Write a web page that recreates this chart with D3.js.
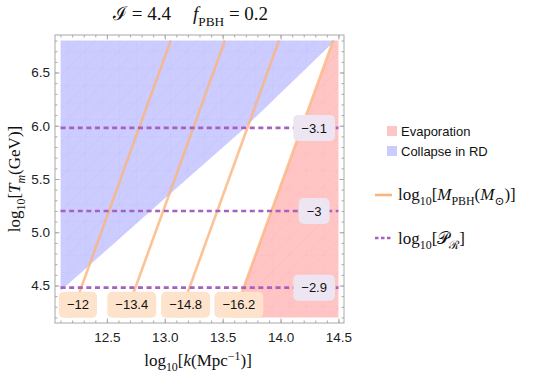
<!DOCTYPE html>
<html>
<head>
<meta charset="utf-8">
<script src="https://cdn.jsdelivr.net/npm/d3@7"></script>
<style>
  body { margin: 0; background: #fff; }
  svg { display: block; }
  .tick text { font-family: "Liberation Sans", Arial, sans-serif; font-size: 13.5px; fill: #222; }
  .serif { font-family: "Liberation Serif", "DejaVu Serif", serif; fill: #111; }
  .lbl { font-family: "Liberation Sans", Arial, sans-serif; font-size: 13px; fill: #111; }
</style>
</head>
<body>
<svg id="chart" width="542" height="379"></svg>
<script>
// ---- data ----
const kExtent = [12.1, 14.5];          // log10 k
const tExtent = [4.2, 6.8];            // log10 Tm
const xMajorTicks = [12.5, 13.0, 13.5, 14.0, 14.5];
const yMajorTicks = [4.5, 5.0, 5.5, 6.0, 6.5];

// log10 M_PBH contours: k at top (T=6.8) and bottom (T=4.2)
const massLevels = [-12, -13.4, -14.8, -16.2];
const massKTop = [13.052, 13.52, 13.987, 14.455];
const massKBottom = [12.185, 12.653, 13.12, 13.588];
const massLabelK = [12.25, 12.715, 13.18, 13.64];
const massLabelT = 4.32;

// log10 P_R contours (horizontal)
const pLevels = [-3.1, -3, -2.9];
const pLevelT = [5.98, 5.2, 4.48];
const pLabelK = 14.29;

// regions
const evapK = [13.588, 14.46, 14.5, 14.5];
const evapT = [4.2, 6.8, 6.8, 4.2];
const collapseK = [12.1, 12.1, 14.47, 13.65, 12.985, 12.1];
const collapseT = [4.45, 6.8, 6.8, 5.94, 5.303, 4.45];

// ---- drawing ----
const svg = d3.select("#chart");
const frame = { left: 55, right: 344, top: 35, bottom: 323 };
const padX = (kExtent[1] - kExtent[0]) * 0.02;
const padY = (tExtent[1] - tExtent[0]) * 0.02;
const x = d3.scaleLinear().domain([kExtent[0] - padX, kExtent[1] + padX]).range([frame.left, frame.right]);
const y = d3.scaleLinear().domain([tExtent[0] - padY, tExtent[1] + padY]).range([frame.bottom, frame.top]);

const orange = "#fbb47c";
const purple = "#a660c0";
const blueFill = "rgba(0,0,255,0.2)";
const pinkFill = "rgba(255,0,0,0.23)";

const defs = svg.append("defs");
function meshPattern(id, color) {
  const p = defs.append("pattern").attr("id", id).attr("patternUnits", "userSpaceOnUse")
    .attr("width", 17).attr("height", 17);
  p.append("path").attr("d", "M0,17 L17,0 M0,0 L0,17 M0,0 L17,0")
    .attr("stroke", color).attr("stroke-width", 0.5).attr("fill", "none");
}
meshPattern("meshBlue", "rgba(60,60,230,0.08)");
meshPattern("meshPink", "rgba(220,60,60,0.08)");

const plot = svg.append("g");
const line = d3.line().x(d => x(d[0])).y(d => y(d[1]));

// regions
const poly = (ks, ts) => line(ks.map((k, i) => [k, ts[i]])) + "Z";
plot.append("path").attr("d", poly(evapK, evapT)).attr("fill", pinkFill);
plot.append("path").attr("d", poly(evapK, evapT)).attr("fill", "url(#meshPink)");
plot.append("path").attr("d", poly(collapseK, collapseT)).attr("fill", blueFill);
plot.append("path").attr("d", poly(collapseK, collapseT)).attr("fill", "url(#meshBlue)");

// orange mass contours
plot.selectAll("path.mass")
  .data(massLevels.map((m, i) => [[massKBottom[i], tExtent[0]], [massKTop[i], tExtent[1]]]))
  .join("path")
  .attr("class", "mass")
  .attr("d", line)
  .attr("fill", "none")
  .attr("stroke", orange)
  .attr("stroke-opacity", 0.8)
  .attr("stroke-width", 2.6);

// P_R dashed lines
plot.selectAll("path.pr")
  .data(pLevelT.map(t => [[kExtent[0], t], [kExtent[1], t]]))
  .join("path")
  .attr("class", "pr")
  .attr("d", line)
  .attr("stroke", purple)
  .attr("stroke-width", 2.6)
  .attr("stroke-dasharray", "5,3.6");

// label boxes
function boxLabel(cx, cy, txt, fill) {
  const g = plot.append("g").attr("transform", `translate(${cx},${cy})`);
  const t = g.append("text").attr("class", "lbl").attr("text-anchor", "middle")
    .attr("dy", "0.36em").text(txt);
  const w = t.node().getComputedTextLength() + 16;
  g.insert("rect", "text").attr("x", -w / 2).attr("y", -13).attr("width", w).attr("height", 26)
    .attr("rx", 5).attr("fill", fill);
}
const minus = v => String(v).replace("-", "\u2212");
massLevels.forEach((m, i) => boxLabel(x(massLabelK[i]), y(massLabelT), minus(m), "#fde3cb"));
pLevels.forEach((p, i) => boxLabel(x(pLabelK), y(pLevelT[i]), minus(p), "#ede5f1"));

// frame and ticks
const frameColor = "#a8a8a8";
const minorX = d3.range(121, 146).map(v => v / 10);
const minorY = d3.range(42, 69).map(v => v / 10);
function ticks(axisFn, scale, vals, size, pos, labels) {
  const a = axisFn(scale).tickValues(vals).tickSizeOuter(0).tickSizeInner(size);
  if (labels) a.tickFormat(d3.format(".1f")).tickPadding(labels);
  else a.tickFormat("");
  const g = svg.append("g").attr("transform", pos).call(a);
  g.select(".domain").remove();
  g.selectAll("line").attr("stroke", frameColor);
  return g;
}
ticks(d3.axisBottom, x, minorX, -2.5, `translate(0,${frame.bottom})`);
ticks(d3.axisBottom, x, xMajorTicks, -4.5, `translate(0,${frame.bottom})`);
ticks(d3.axisTop, x, minorX, -2.5, `translate(0,${frame.top})`);
ticks(d3.axisTop, x, xMajorTicks, -4.5, `translate(0,${frame.top})`);
ticks(d3.axisLeft, y, minorY, -2.5, `translate(${frame.left},0)`);
ticks(d3.axisLeft, y, yMajorTicks, -4.5, `translate(${frame.left},0)`);
ticks(d3.axisRight, y, minorY, -2.5, `translate(${frame.right},0)`);
ticks(d3.axisRight, y, yMajorTicks, -4.5, `translate(${frame.right},0)`);
// labelled ticks
ticks(d3.axisBottom, x, xMajorTicks, 0, `translate(0,${frame.bottom})`, 9);
ticks(d3.axisLeft, y, yMajorTicks, 0, `translate(${frame.left},0)`, 5);
svg.append("rect")
  .attr("x", frame.left).attr("y", frame.top)
  .attr("width", frame.right - frame.left).attr("height", frame.bottom - frame.top)
  .attr("fill", "none").attr("stroke", frameColor).attr("stroke-width", 1);

// math-ish text helper: parts = [text, style] where style in {"", "i", "sub", "sup"}
function mathText(sel, parts, size) {
  let shift = 0;
  parts.forEach(([s, st]) => {
    const ts = sel.append("tspan").text(s);
    let target = 0;
    if (st.includes("sub")) target = size * 0.3;
    if (st.includes("sup")) target = -size * 0.38;
    ts.attr("dy", target - shift);
    shift = target;
    if (st.includes("sub") || st.includes("sup")) ts.attr("font-size", size * 0.7);
    if (st.includes("i")) ts.attr("font-style", "italic");
  });
}

// title
const t1 = svg.append("text").attr("class", "serif").attr("font-size", 19)
  .attr("x", 113).attr("y", 20).style("white-space", "pre");
mathText(t1, [["\u2110", ""], [" = 4.4", ""]], 19);
const t2 = svg.append("text").attr("class", "serif").attr("font-size", 19)
  .attr("x", 193).attr("y", 20).style("white-space", "pre");
mathText(t2, [["f", "i"], ["PBH", "sub"], [" = 0.2", ""]], 19);

// axis titles
const xt = svg.append("text").attr("class", "serif").attr("font-size", 17)
  .attr("x", 198).attr("y", 366).attr("text-anchor", "middle");
mathText(xt, [["log", ""], ["10", "sub"], ["[", ""], ["k", "i"], ["(Mpc", ""], ["\u22121", "sup"], [")]", ""]], 17);

const yt = svg.append("text").attr("class", "serif").attr("font-size", 17)
  .attr("transform", "translate(20,179) rotate(-90)").attr("text-anchor", "middle");
mathText(yt, [["log", ""], ["10", "sub"], ["[", ""], ["T", "i"], ["m", "i sub"], ["(GeV)]", ""]], 17);

// legend
const lg = svg.append("g");
lg.append("rect").attr("x", 387).attr("y", 126).attr("width", 10).attr("height", 10).attr("fill", "#ffc4c4");
lg.append("text").attr("class", "lbl").attr("x", 401).attr("y", 131).attr("dy", "0.36em").text("Evaporation");
lg.append("rect").attr("x", 387).attr("y", 146).attr("width", 10).attr("height", 10).attr("fill", "#cbcbff");
lg.append("text").attr("class", "lbl").attr("x", 401).attr("y", 151).attr("dy", "0.36em").text("Collapse in RD");
lg.append("line").attr("x1", 375).attr("x2", 392).attr("y1", 195).attr("y2", 195)
  .attr("stroke", orange).attr("stroke-width", 2.6);
const lm = lg.append("text").attr("class", "serif").attr("font-size", 17).attr("x", 398).attr("y", 200);
mathText(lm, [["log", ""], ["10", "sub"], ["[", ""], ["M", "i"], ["PBH", "sub"], ["(", ""], ["M", "i"], ["\u2299", "sub"], [")]", ""]], 17);
lg.append("line").attr("x1", 375).attr("x2", 392).attr("y1", 238).attr("y2", 238)
  .attr("stroke", purple).attr("stroke-width", 2.6).attr("stroke-dasharray", "3.5,2.5");
const lp = lg.append("text").attr("class", "serif").attr("font-size", 17).attr("x", 398).attr("y", 244);
mathText(lp, [["log", ""], ["10", "sub"], ["[", ""], ["\uD835\uDCAB", ""], ["\u211B", "sub"], ["]", ""]], 17);
</script>
</body>
</html>
